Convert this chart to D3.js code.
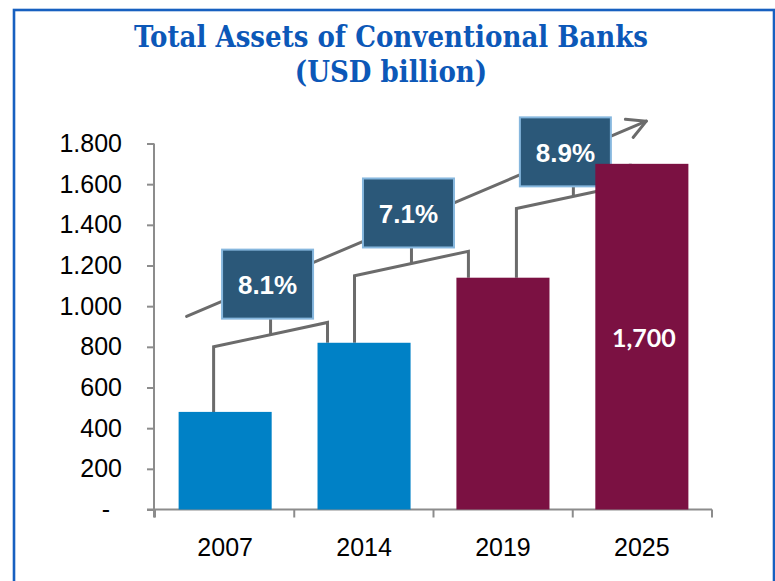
<!DOCTYPE html>
<html>
<head>
<meta charset="utf-8">
<script src="https://cdn.jsdelivr.net/npm/d3@7"></script>
<style>
  html, body { margin: 0; padding: 0; background: #fff; }
  svg { display: block; }
</style>
</head>
<body>
<svg id="chart" width="775" height="581"></svg>
<script>
// Total assets of conventional banks, USD billion
const years = ["2007", "2014", "2019", "2025"];
const assets = [480, 820, 1140, 1700];
const barColors = ["#0081C6", "#0081C6", "#7B1142", "#7B1142"];
const yTicks = [0, 200, 400, 600, 800, 1000, 1200, 1400, 1600, 1800];
const growthRates = ["8.1%", "7.1%", "8.9%"];
const valueLabels = ["", "", "", "1,700"];

const svg = d3.select("#chart");

// Frame
svg.append("rect")
  .attr("x", 14).attr("y", 10)
  .attr("width", 760).attr("height", 600)
  .attr("fill", "none")
  .attr("stroke", "#1760C0")
  .attr("stroke-width", 2.6);

// Title
const title = svg.append("text")
  .attr("text-anchor", "middle")
  .attr("fill", "#0C58B8")
  .attr("font-family", "'DejaVu Serif Condensed', 'DejaVu Serif', serif")
  .attr("font-weight", "bold")
  .attr("font-size", 29);
title.append("tspan").attr("x", 391).attr("y", 47).text("Total Assets of Conventional Banks");
title.append("tspan").attr("x", 391).attr("y", 82).text("(USD billion)");

// Scales
const x = d3.scaleBand()
  .domain(years)
  .range([155, 712])
  .paddingInner(0.33)
  .paddingOuter(0.17);

const y = d3.scaleLinear()
  .domain([0, 1800])
  .range([509.5, 143.5]);

const fmt = d3.formatLocale({ decimal: ",", thousands: ".", grouping: [3], currency: ["", ""] }).format(",");

const axisColor = "#8C8C8C";
const lineColor = "#6B6B6B";

// Y axis
const yAxis = svg.append("g")
  .attr("transform", "translate(154,0)")
  .call(d3.axisLeft(y)
    .tickValues(yTicks)
    .tickSize(7)
    .tickPadding(25)
    .tickFormat(d => d === 0 ? "-" : fmt(d)));
yAxis.select(".domain").attr("stroke", axisColor).attr("stroke-width", 2);
yAxis.selectAll(".tick line").attr("stroke", axisColor).attr("stroke-width", 2);
yAxis.selectAll(".tick text")
  .attr("fill", "#000")
  .attr("font-family", "'Liberation Sans', Arial, sans-serif")
  .attr("font-size", 25)
  .attr("dx", d => d === 0 ? -12 : 0);
// extend the axis line just below zero like the category ticks
yAxis.select(".domain").attr("d", `M0,${y(1800)}V${y(0) + 8}`);

// X axis: line plus ticks on category boundaries
const xAxis = svg.append("g");
xAxis.append("line")
  .attr("x1", 147).attr("x2", x.range()[1])
  .attr("y1", y(0)).attr("y2", y(0))
  .attr("stroke", axisColor).attr("stroke-width", 2);
xAxis.selectAll("line.tick")
  .data(d3.range(years.length + 1))
  .join("line")
  .attr("class", "tick")
  .attr("x1", i => x.range()[0] + i * (x.range()[1] - x.range()[0]) / years.length)
  .attr("x2", i => x.range()[0] + i * (x.range()[1] - x.range()[0]) / years.length)
  .attr("y1", y(0)).attr("y2", y(0) + 8)
  .attr("stroke", axisColor).attr("stroke-width", 2);
xAxis.selectAll("text")
  .data(years)
  .join("text")
  .attr("x", d => x(d) + x.bandwidth() / 2)
  .attr("y", y(0) + 46)
  .attr("text-anchor", "middle")
  .attr("font-family", "'Liberation Sans', Arial, sans-serif")
  .attr("font-size", 25)
  .attr("fill", "#000")
  .text(d => d);

// Trend arrow behind the growth boxes
const arrowStart = [x(years[0]) + 8, y(950)];
const arrowEnd = [x(years[3]) + 51, y(1910)];
const ang = Math.atan2(arrowEnd[1] - arrowStart[1], arrowEnd[0] - arrowStart[0]);
const headLen = 21, headAng = 28 * Math.PI / 180;
const head = [ang + Math.PI - headAng, ang + Math.PI + headAng]
  .map(a => [arrowEnd[0] + headLen * Math.cos(a), arrowEnd[1] + headLen * Math.sin(a)]);
const arrowG = svg.append("g")
  .attr("fill", "none").attr("stroke", lineColor)
  .attr("stroke-width", 3).attr("stroke-linecap", "round").attr("stroke-linejoin", "round");
arrowG.append("line")
  .attr("x1", arrowStart[0]).attr("y1", arrowStart[1])
  .attr("x2", arrowEnd[0]).attr("y2", arrowEnd[1]);
arrowG.append("path")
  .attr("d", `M${head[0][0]},${head[0][1]}L${arrowEnd[0]},${arrowEnd[1]}L${head[1][0]},${head[1][1]}`);

// Brackets linking consecutive bars, with a growth box on each
const brackets = [
  { from: 0, to: 1, x0: 35, x1: 10, v0: 800, v1: 920, stem: 16, shift: -3 },
  { from: 1, to: 2, x0: 37, x1: 12, v0: 1150, v1: 1270, stem: 16, shift: -3 },
  { from: 2, to: 3, x0: 60, x1: 35, v0: 1480, v1: 1600, stem: 10, shift: -8 }
];
const boxW = 91, boxH = 69;
const brG = svg.append("g");
brackets.forEach((b, i) => {
  const lx = x(years[b.from]) + b.x0;
  const rx = x(years[b.to]) + b.x1;
  const ly = y(b.v0), ry = y(b.v1);
  const mx = (lx + rx) / 2, my = (ly + ry) / 2;
  brG.append("path")
    .attr("d", `M${lx},${y(assets[b.from])}V${ly}L${rx},${ry}V${y(assets[b.to])}`)
    .attr("fill", "none").attr("stroke", lineColor).attr("stroke-width", 3);
  brG.append("line")
    .attr("x1", mx).attr("x2", mx)
    .attr("y1", my).attr("y2", my - b.stem)
    .attr("stroke", lineColor).attr("stroke-width", 3);
  const bx = mx + b.shift - boxW / 2;
  const by = my - b.stem - boxH;
  brG.append("rect")
    .attr("x", bx).attr("y", by)
    .attr("width", boxW).attr("height", boxH)
    .attr("fill", "#2B5879")
    .attr("stroke", "#86B7DE").attr("stroke-width", 2);
  brG.append("text")
    .attr("x", bx + boxW / 2).attr("y", by + boxH / 2 + 10)
    .attr("text-anchor", "middle")
    .attr("fill", "#fff")
    .attr("font-family", "'Liberation Sans', Arial, sans-serif")
    .attr("font-weight", "bold")
    .attr("font-size", 26)
    .text(growthRates[i]);
});

// Bars
svg.append("g")
  .selectAll("rect")
  .data(years)
  .join("rect")
  .attr("x", d => x(d))
  .attr("y", (d, i) => y(assets[i]))
  .attr("width", x.bandwidth())
  .attr("height", (d, i) => y(0) - y(assets[i]))
  .attr("fill", (d, i) => barColors[i]);

// Value label inside the last bar
svg.append("g")
  .selectAll("text")
  .data(years)
  .join("text")
  .attr("x", d => x(d) + x.bandwidth() / 2 + 2)
  .attr("y", 347)
  .attr("text-anchor", "middle")
  .attr("fill", "#fff")
  .attr("font-family", "Lato, 'Open Sans', sans-serif")
  .attr("font-weight", "bold")
  .attr("font-size", 25)
  .text((d, i) => valueLabels[i]);
</script>
</body>
</html>
